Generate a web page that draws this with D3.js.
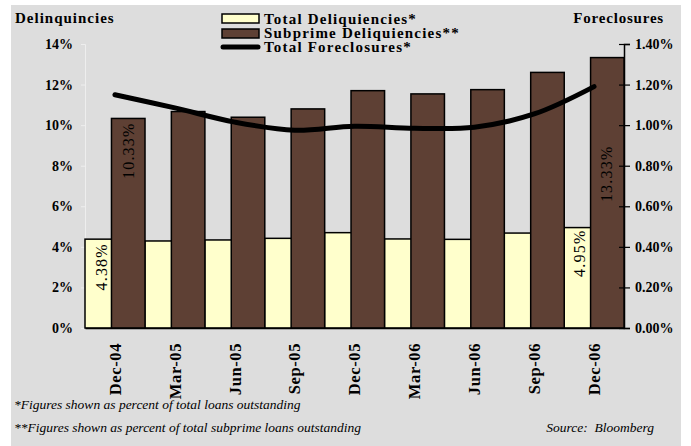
<!DOCTYPE html>
<html>
<head>
<meta charset="utf-8">
<script src="https://cdn.jsdelivr.net/npm/d3@7"></script>
<style>
  body { margin: 0; background: #fff; }
  svg text { font-family: "Liberation Serif", "DejaVu Serif", serif; }
</style>
</head>
<body>
<svg id="chart" width="691" height="446"></svg>
<script>
// data
var categories = ["Dec-04", "Mar-05", "Jun-05", "Sep-05", "Dec-05", "Mar-06", "Jun-06", "Sep-06", "Dec-06"];
var totalDelinq = [4.38, 4.29, 4.34, 4.42, 4.70, 4.39, 4.37, 4.68, 4.95];
var subprimeDelinq = [10.33, 10.67, 10.39, 10.80, 11.70, 11.54, 11.75, 12.60, 13.33];
var totalForeclosures = [1.15, 1.085, 1.015, 0.975, 0.995, 0.985, 0.99, 1.055, 1.19];
var leftTicks = [0, 2, 4, 6, 8, 10, 12, 14];
var rightTicks = [0, 0.2, 0.4, 0.6, 0.8, 1.0, 1.2, 1.4];

var yellow = "#ffffcc", brown = "#5e4034";

var svg = d3.select("#chart");

// grey panel
svg.append("rect")
  .attr("x", 11).attr("y", 5)
  .attr("width", 670).attr("height", 441)
  .attr("fill", "#dddddd");

var plotLeft = 85, plotRight = 624, plotTop = 44, plotBottom = 328;

var x = d3.scaleBand().domain(categories).range([plotLeft, plotRight]).padding(0);
var yL = d3.scaleLinear().domain([0, 14]).range([plotBottom, plotTop]);
var yR = d3.scaleLinear().domain([0, 1.4]).range([plotBottom, plotTop]);

var bw = x.bandwidth();
var barW = bw * 0.56, shift = bw * 0.442;

// left axis (faint)
var leftAxis = svg.append("g")
  .attr("transform", "translate(" + plotLeft + ",0)")
  .call(d3.axisLeft(yL).tickValues(leftTicks).tickSize(4).tickPadding(8)
        .tickFormat(function(d){ return d + "%"; }));
leftAxis.select(".domain").attr("stroke", "#eeeeee");
leftAxis.selectAll(".tick line").attr("stroke", "#eeeeee");
leftAxis.selectAll("text")
  .attr("font-size", 14).attr("font-weight", "bold").attr("fill", "#000");

// bars: yellow first, brown overlaps it
svg.selectAll(".tot")
  .data(totalDelinq)
  .enter().append("rect")
  .attr("class", "tot")
  .attr("x", function(d, i){ return x(categories[i]); })
  .attr("y", function(d){ return yL(d); })
  .attr("width", barW)
  .attr("height", function(d){ return yL(0) - yL(d); })
  .attr("fill", yellow).attr("stroke", "#000").attr("stroke-width", 1.5);

svg.selectAll(".sub")
  .data(subprimeDelinq)
  .enter().append("rect")
  .attr("class", "sub")
  .attr("x", function(d, i){ return x(categories[i]) + shift; })
  .attr("y", function(d){ return yL(d); })
  .attr("width", barW)
  .attr("height", function(d){ return yL(0) - yL(d); })
  .attr("fill", brown).attr("stroke", "#000").attr("stroke-width", 1.5);

// data labels on first and last bars
function barLabel(cx, val, offset){
  svg.append("text")
    .attr("transform", "translate(" + cx + "," + (yL(val) + offset) + ") rotate(-90)")
    .attr("text-anchor", "end")
    .attr("dy", "0.35em")
    .attr("font-size", 16)
    .attr("letter-spacing", 1.2)
    .attr("fill", "#000")
    .text(val.toFixed(2) + "%");
}
var n = categories.length;
barLabel(x(categories[0]) + shift / 2 + 3, totalDelinq[0], 4);
barLabel(x(categories[0]) + shift + barW / 2, subprimeDelinq[0], 4);
barLabel(x(categories[n - 1]) + shift / 2 + 2, totalDelinq[n - 1], 2);
barLabel(x(categories[n - 1]) + shift + barW / 2 - 1, subprimeDelinq[n - 1], 88);

// bottom axis
var bottomAxis = svg.append("g")
  .attr("transform", "translate(0," + plotBottom + ")")
  .call(d3.axisBottom(x).tickSize(0).tickPadding(0));
bottomAxis.select(".domain").attr("stroke", "#000").attr("stroke-width", 1.5);
bottomAxis.selectAll("text")
  .attr("transform", "translate(0,15) rotate(-90)")
  .attr("text-anchor", "end")
  .attr("dy", "0.35em")
  .attr("y", 0)
  .attr("font-size", 16.5).attr("font-weight", "bold")
  .attr("letter-spacing", 0.6)
  .attr("fill", "#000");

// right axis
var rightAxis = svg.append("g")
  .attr("transform", "translate(" + plotRight + ",0)")
  .call(d3.axisRight(yR).tickValues(rightTicks).tickSize(6).tickPadding(5)
        .tickFormat(function(d){ return d.toFixed(2) + "%"; }));
rightAxis.select(".domain").attr("stroke", "#000").attr("stroke-width", 1.5);
rightAxis.selectAll(".tick line").attr("x1", -5).attr("stroke-width", 1.2);
rightAxis.selectAll("text")
  .attr("font-size", 14).attr("font-weight", "bold").attr("fill", "#000");

// foreclosure line
var line = d3.line()
  .x(function(d, i){ return x(categories[i]) + bw / 2; })
  .y(function(d){ return yR(d); })
  .curve(d3.curveCatmullRom.alpha(0.5));

svg.append("path")
  .datum(totalForeclosures)
  .attr("d", line)
  .attr("fill", "none")
  .attr("stroke", "#000")
  .attr("stroke-width", 5)
  .attr("stroke-linecap", "round");

// axis titles
svg.append("text").attr("x", 15).attr("y", 23)
  .attr("font-size", 15).attr("font-weight", "bold").attr("letter-spacing", 1)
  .text("Delinquincies");
svg.append("text").attr("x", 664).attr("y", 23).attr("text-anchor", "end")
  .attr("font-size", 15).attr("font-weight", "bold").attr("letter-spacing", 0.8)
  .text("Foreclosures");

// legend
var legend = svg.append("g");
legend.append("rect").attr("x", 222).attr("y", 14).attr("width", 37).attr("height", 9)
  .attr("fill", yellow).attr("stroke", "#000").attr("stroke-width", 1.5);
legend.append("rect").attr("x", 222).attr("y", 29).attr("width", 37).attr("height", 9)
  .attr("fill", brown).attr("stroke", "#000").attr("stroke-width", 1.5);
legend.append("line").attr("x1", 223).attr("x2", 258).attr("y1", 47).attr("y2", 47)
  .attr("stroke", "#000").attr("stroke-width", 5).attr("stroke-linecap", "round");
var legendNames = ["Total Deliquiencies*", "Subprime Deliquiencies**", "Total Foreclosures*"];
legend.selectAll(".lt")
  .data(legendNames)
  .enter().append("text")
  .attr("x", 264)
  .attr("y", function(d, i){ return 24 + i * 13.8; })
  .attr("font-size", 15).attr("font-weight", "bold")
  .attr("letter-spacing", 1.2)
  .text(function(d){ return d; });

// footnotes
svg.append("text").attr("x", 14).attr("y", 409)
  .attr("font-size", 13.5).attr("font-style", "italic")
  .text("*Figures shown as percent of total loans outstanding");
svg.append("text").attr("x", 14).attr("y", 432)
  .attr("font-size", 13.5).attr("font-style", "italic")
  .text("**Figures shown as percent of total subprime loans outstanding");
svg.append("text").attr("x", 654).attr("y", 432).attr("text-anchor", "end")
  .attr("font-size", 13.5).attr("font-style", "italic")
  .attr("xml:space", "preserve")
  .text("Source:  Bloomberg");
</script>
</body>
</html>
